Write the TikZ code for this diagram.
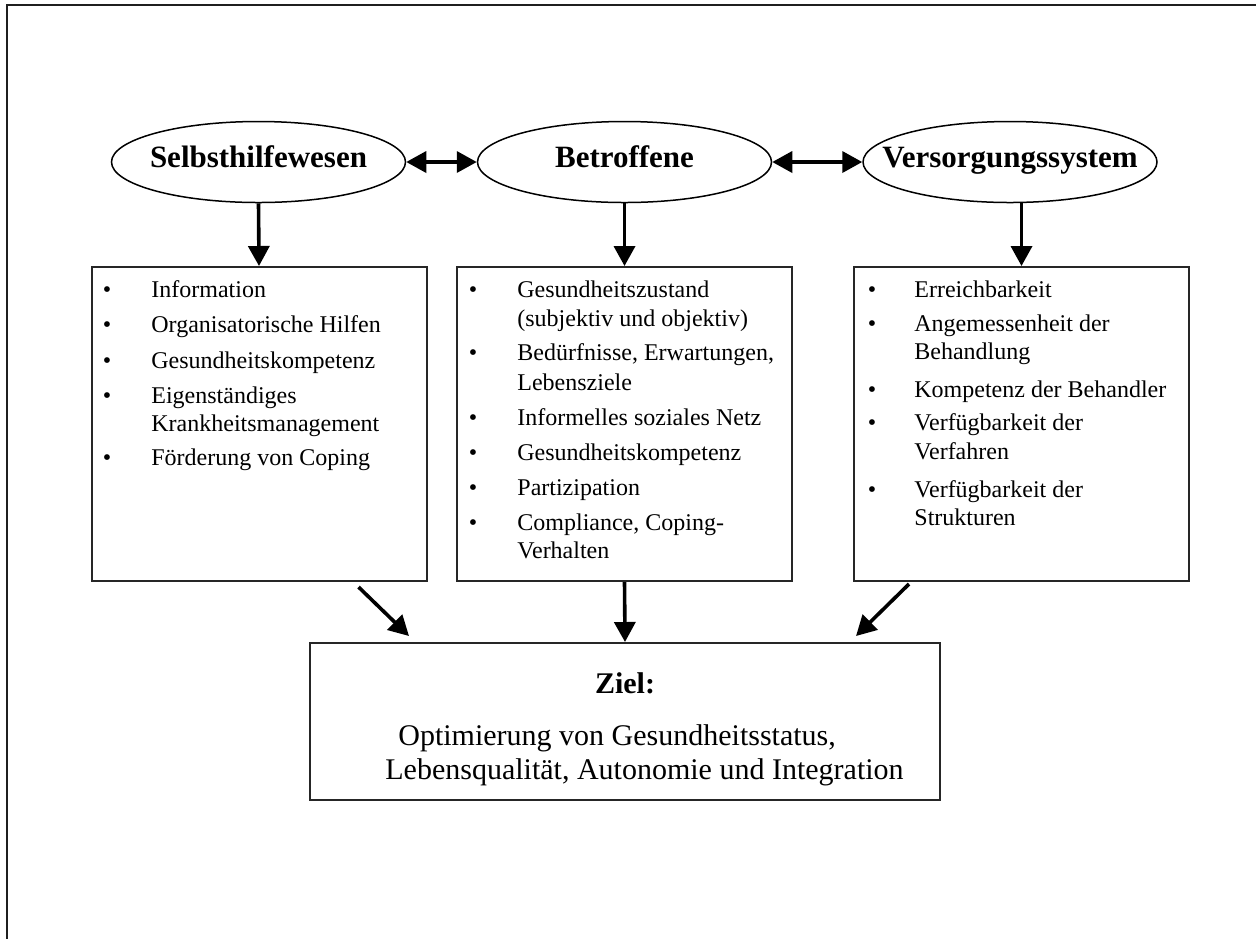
\documentclass[tikz,border=0pt]{standalone}
\usepackage{fontspec}
\setmainfont{Liberation Serif}
\usetikzlibrary{shapes.geometric,arrows.meta,calc}
\begin{document}
\begin{tikzpicture}[x=0.5pt,y=-0.5pt,
  frameline/.style={line width=1.2pt,draw=black!88},
  party/.style={ellipse,draw,line width=0.75pt,minimum width=147pt,minimum height=40.5pt,inner sep=0pt},
  partytxt/.style={inner sep=0pt,font=\fontsize{15.5}{18}\selectfont\bfseries,text height=10.5pt,text depth=5.5pt},
  listbox/.style={rectangle,draw=black!85,line width=1pt,minimum width=167.5pt,minimum height=157pt,inner sep=0pt},
  goalbox/.style={rectangle,draw=black!85,line width=1pt,minimum width=315pt,minimum height=78.5pt,inner sep=0pt},
  bul/.style={anchor=base,inner sep=0pt,font=\fontsize{12}{14}\selectfont},
  itm/.style={anchor=base west,inner sep=0pt,font=\fontsize{12}{14}\selectfont},
  goaltxt/.style={inner sep=0pt,font=\fontsize{15}{18}\selectfont},
  link/.style={line width=1.8pt,-{Triangle[length=10pt,width=10.5pt]}},
  twoway/.style={line width=1.8pt,{Triangle[length=10pt,width=10.5pt]}-{Triangle[length=10pt,width=10.5pt]}}
]
\useasboundingbox (0,0) rectangle (1256,939);

% open frame: top and left edges
\coordinate (ftl) at (7,5);
\coordinate (ftr) at (1256,5);
\coordinate (fbl) at (7,939);
\draw[frameline] (ftr) -- (ftl) -- (fbl);

% the three parties
\node[party] (e1) at (258.5,162) {};
\node[party] (e2) at (624.5,162) {};
\node[party] (e3) at (1010,162) {};
\node[partytxt] (e1t) at (e1.center) {Selbsthilfewesen};
\node[partytxt] (e2t) at (e2.center) {Betroffene};
\node[partytxt] (e3t) at (e3.center) {Versorgungssystem};

\draw[twoway] (e1.east) -- (e2.west);
\draw[twoway] (e2.east) -- (e3.west);

% list boxes
\node[listbox] (b1) at (259,424) {};
\node[listbox] (b2) at (624.5,424) {};
\node[listbox] (b3) at (1021.5,424) {};

\draw[link] (e1.south) -- (b1.north);
\draw[link] (e2.south) -- (b2.north);
\draw[link] (e3.south -| b3.north) -- (b3.north);

% Selbsthilfewesen items
\foreach \n/\y in {1/297,2/332,3/368,4/403,5/465}
  \node[bul] (s1b\n) at (107,\y) {•};
\foreach \n/\y/\t in {1/297/{Information},2/332/{Organisatorische Hilfen},
    3/368/{Gesundheitskompetenz},4/403/{Eigenständiges},5/431/{Krankheitsmanagement},
    6/465/{Förderung von Coping}}
  \node[itm] (s1t\n) at (151,\y) {\t};

% Betroffene items
\foreach \n/\y in {1/297,2/360,3/425,4/460,5/495,6/530}
  \node[bul] (s2b\n) at (473,\y) {•};
\foreach \n/\y/\t in {1/297/{Gesundheitszustand},2/326/{(subjektiv und objektiv)},
    3/360/{Bedürfnisse, Erwartungen,},4/390/{Lebensziele},5/425/{Informelles soziales Netz},
    6/460/{Gesundheitskompetenz},7/495/{Partizipation},8/530/{Compliance, Coping-},
    9/558/{Verhalten}}
  \node[itm] (s2t\n) at (517,\y) {\t};

% Versorgungssystem items
\foreach \n/\y in {1/297,2/331,3/397,4/430,5/497}
  \node[bul] (s3b\n) at (872,\y) {•};
\foreach \n/\y/\t in {1/297/{Erreichbarkeit},2/331/{Angemessenheit der},
    3/359/{Behandlung},4/397/{Kompetenz der Behandler},5/430/{Verfügbarkeit der},
    6/459/{Verfahren},7/497/{Verfügbarkeit der},8/525/{Strukturen}}
  \node[itm] (s3t\n) at (914,\y) {\t};

% goal
\node[goalbox] (ziel) at (625,721.5) {};
\node[goaltxt,anchor=base,font=\fontsize{15}{18}\selectfont\bfseries] (zt0) at (625,693) {Ziel:};
\node[goaltxt,anchor=base west] (zt1) at (398,745) {Optimierung von Gesundheitsstatus,};
\node[goaltxt,anchor=base west] (zt2) at (385,779) {Lebensqualität, Autonomie und Integration};

\draw[link] ($(b1.south east)+(-69,5)$) -- ($(ziel.north west)+(100,-6)$);
\draw[link] (b2.south) -- (ziel.north);
\draw[link] ($(b3.south west)+(56,2)$) -- ($(ziel.north east)+(-85,-6)$);
\end{tikzpicture}
\end{document}
